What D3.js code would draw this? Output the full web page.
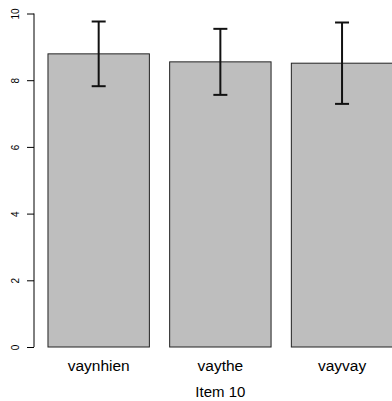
<!DOCTYPE html>
<html>
<head>
<meta charset="utf-8">
<script src="https://cdn.jsdelivr.net/npm/d3@7"></script>
<style>
html,body{margin:0;padding:0;background:#fff;}
svg{display:block;}
text{font-family:"Liberation Sans",Arial,Helvetica,sans-serif;fill:#000;}
</style>
</head>
<body>
<script>
const categories = ["vaynhien", "vaythe", "vayvay"];
const means = [8.79, 8.55, 8.51];
const errors = [0.97, 0.99, 1.22];
const yTicks = [0, 2, 4, 6, 8, 10];
const xTitle = "Item 10";

const W = 392, H = 401;
const svg = d3.select("body").append("svg").attr("width", W).attr("height", H);

// R barplot geometry: width 1, space 0.2
const barW = 1, space = 0.2;
const xs = d3.scaleLinear().domain([0, 3.8]).range([27.7, 27.7 + 3.8 * 101.4]);
const y = d3.scaleLinear().domain([0, 10]).range([347, 13.5]);

const barLeft = i => space + i * (barW + space);
const barMid = i => barLeft(i) + barW / 2;

// bars
svg.append("g").selectAll("rect").data(means).join("rect")
  .attr("x", (d, i) => xs(barLeft(i)))
  .attr("y", d => y(d))
  .attr("width", (d, i) => xs(barLeft(i) + barW) - xs(barLeft(i)))
  .attr("height", d => y(0) - y(d))
  .attr("fill", "#bebebe")
  .attr("stroke", "#222")
  .attr("stroke-width", 1);

// error bars
const eg = svg.append("g").attr("stroke", "#111").attr("stroke-width", 2).attr("fill", "none");
means.forEach((m, i) => {
  const cx = xs(barMid(i));
  const hi = y(m + errors[i]), lo = y(m - errors[i]);
  eg.append("line").attr("x1", cx).attr("x2", cx).attr("y1", hi).attr("y2", lo);
  eg.append("line").attr("x1", cx - 7).attr("x2", cx + 7).attr("y1", hi).attr("y2", hi);
  eg.append("line").attr("x1", cx - 7).attr("x2", cx + 7).attr("y1", lo).attr("y2", lo);
});

// y axis
const yAxis = d3.axisLeft(y).tickValues(yTicks).tickSize(7).tickPadding(0).tickFormat(d3.format("d"));
const ga = svg.append("g").attr("transform", "translate(34,0)").call(yAxis);
ga.select(".domain").attr("d", `M0,${y(0)}V${y(10)}`).attr("stroke", "#000");
ga.selectAll(".tick line").attr("stroke", "#000");
ga.selectAll(".tick text")
  .attr("x", null).attr("dy", null)
  .attr("transform", "translate(-15.5,0) rotate(-90)")
  .attr("text-anchor", "middle")
  .style("font-size", "10px")
  .style("font-family", "Liberation Sans, Arial, sans-serif");

// x category labels
svg.append("g").selectAll("text").data(categories).join("text")
  .attr("x", (d, i) => xs(barMid(i)))
  .attr("y", 370.5)
  .attr("text-anchor", "middle")
  .style("font-size", "15.5px")
  .text(d => d);

// x title
svg.append("text")
  .attr("x", xs(1.9))
  .attr("y", 396.5)
  .attr("text-anchor", "middle")
  .style("font-size", "15px")
  .text(xTitle);
</script>
</body>
</html>
